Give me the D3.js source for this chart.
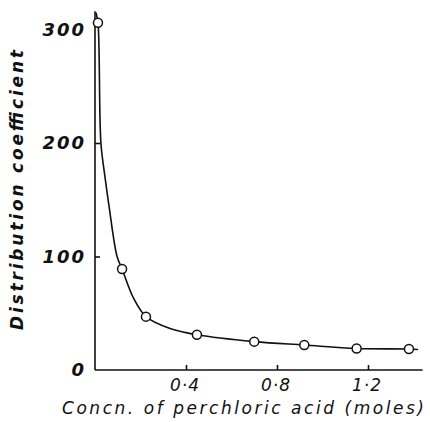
<!DOCTYPE html>
<html>
<head>
<meta charset="utf-8">
<script src="https://cdn.jsdelivr.net/npm/d3@7"></script>
<style>
  body { margin: 0; background: #fff; }
  text { font-family: 'DejaVu Sans', sans-serif; font-style: italic; fill: #111; }
</style>
</head>
<body>
<div id="chart"></div>
<script>

// measured points (concn. of HClO4, distribution coefficient)
const concn = [0.013, 0.119, 0.224, 0.448, 0.70, 0.92, 1.15, 1.38];
const coeff = [306, 89, 47, 31, 25, 22, 19, 18.5];

// smooth curve
const curveX = [0.004, 0.013, 0.026, 0.044, 0.062, 0.097, 0.119, 0.17, 0.224, 0.33, 0.448, 0.70, 0.92, 1.15, 1.38, 1.42];
const curveY = [315, 306, 200, 170, 144, 100, 89, 63, 47, 36.5, 31, 25, 22, 19, 18.5, 18];

const xTicks = [0.4, 0.8, 1.2];
const xTickLabels = ['0·4', '0·8', '1·2'];
const yTicks = [0, 100, 200, 300];

const W = 430, H = 422;
const M = { top: 12, right: 7, bottom: 52, left: 95 };

const svg = d3.select('#chart').append('svg')
  .attr('width', W)
  .attr('height', H);

const x = d3.scaleLinear().domain([0, 1.44]).range([M.left, M.left + 1.44 * 227.5]);
const y = d3.scaleLinear().domain([0, 300]).range([370, 29.5]);

// axes (ticks point inward, like the original)
const xAxis = d3.axisBottom(x).tickValues(xTicks).tickSize(-5).tickFormat(() => '');
const yAxis = d3.axisLeft(y).tickValues([100, 200]).tickSize(-5).tickFormat(() => '');

svg.append('g')
  .attr('transform', `translate(0, ${y(0)})`)
  .call(xAxis)
  .call((g) => g.select('.domain').attr('d', `M${x(0)},0H${x(1.44)}`))
  .call((g) => g.selectAll('line, path').attr('stroke', '#111').attr('stroke-width', 1.6));

svg.append('g')
  .attr('transform', `translate(${x(0)}, 0)`)
  .call(yAxis)
  .call((g) => g.select('.domain').attr('d', `M0,${y(0)}V${y(316)}`))
  .call((g) => g.selectAll('line, path').attr('stroke', '#111').attr('stroke-width', 1.6));

// tick labels
svg.selectAll('.ylab')
  .data(yTicks)
  .enter().append('text')
    .attr('class', 'ylab')
    .attr('x', 86)
    .attr('y', (d) => y(d))
    .attr('dy', '0.35em')
    .attr('text-anchor', 'end')
    .style('font-size', '18px')
    .style('font-weight', 'bold')
    .style('letter-spacing', '2px')
    .text((d) => d);

svg.selectAll('.xlab')
  .data(xTicks)
  .enter().append('text')
    .attr('class', 'xlab')
    .attr('x', (d) => x(d) - 1)
    .attr('y', 391)
    .attr('text-anchor', 'middle')
    .style('font-size', '17px')
    .style('letter-spacing', '1px')
    .text((d, i) => xTickLabels[i]);

// axis titles
svg.append('text')
  .attr('x', 62)
  .attr('y', 414)
  .attr('textLength', 362)
  .attr('lengthAdjust', 'spacing')
  .style('font-size', '17px')
  .text('Concn. of perchloric acid (moles)');

svg.append('text')
  .attr('transform', 'translate(23, 330) rotate(-90)')
  .attr('textLength', 280)
  .attr('lengthAdjust', 'spacing')
  .style('font-size', '17px')
  .style('font-weight', 'bold')
  .text('Distribution coefficient');

// curve
const line = d3.line()
  .x((d) => x(d[0]))
  .y((d) => y(d[1]))
  .curve(d3.curveCatmullRom.alpha(0.5));

svg.append('path')
  .datum(curveX.map((v, i) => [v, curveY[i]]))
  .attr('d', line)
  .attr('fill', 'none')
  .attr('stroke', '#111')
  .attr('stroke-width', 1.6);

svg.selectAll('.pt')
  .data(concn.map((v, i) => [v, coeff[i]]))
  .enter().append('circle')
    .attr('class', 'pt')
    .attr('cx', (d) => x(d[0]))
    .attr('cy', (d) => y(d[1]))
    .attr('r', 4.5)
    .attr('fill', '#fff')
    .attr('stroke', '#111')
    .attr('stroke-width', 1.5);

</script>
</body>
</html>
